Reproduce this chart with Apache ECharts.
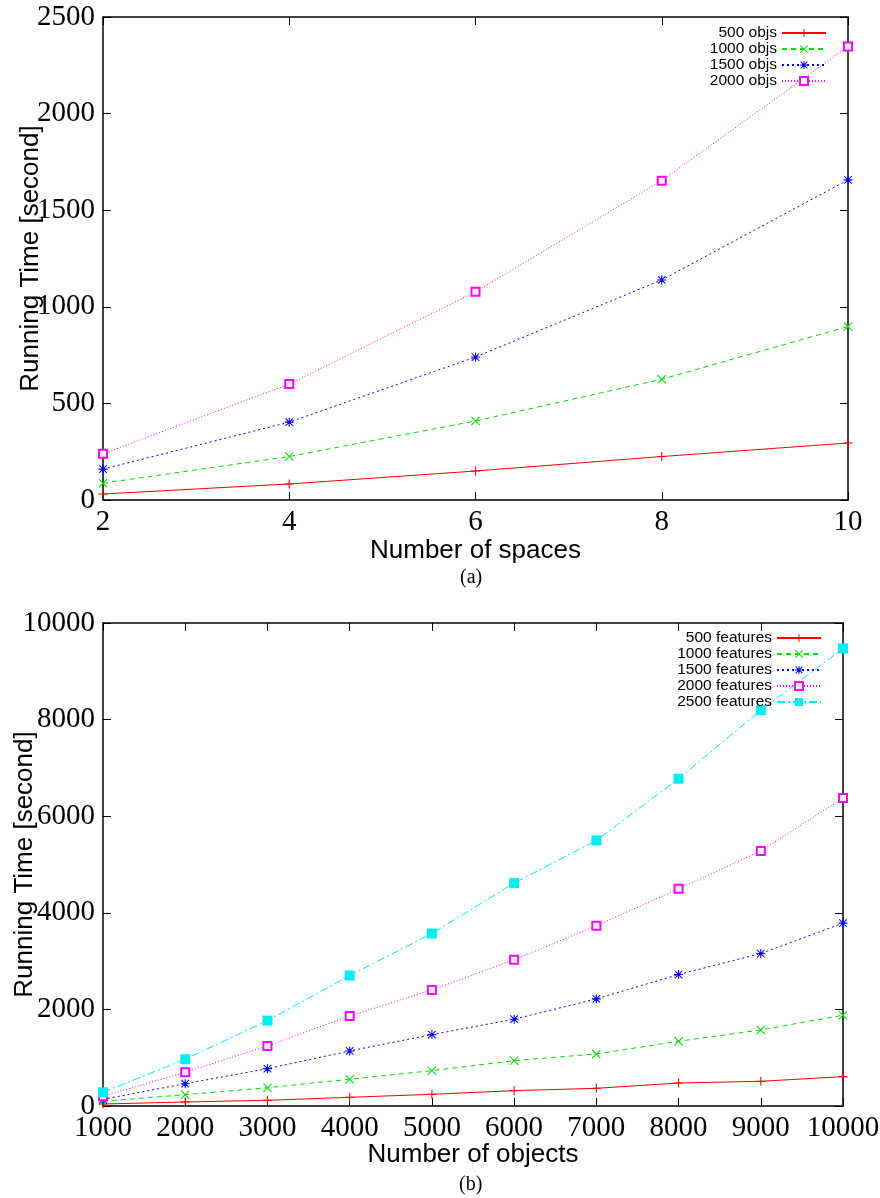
<!DOCTYPE html>
<html>
<head>
<meta charset="utf-8">
<script src="https://cdn.jsdelivr.net/npm/echarts@6/dist/echarts.min.js"></script>
<style>
  html, body { margin: 0; padding: 0; background: #fff; }
  #main { width: 880px; height: 1198px; }
</style>
</head>
<body>
<div id="main"></div>
<script>
// (a) running time vs number of spaces
var spaces = [2, 4, 6, 8, 10];
var objs500 = [31, 83, 150, 225, 295];
var objs1000 = [87, 225, 409, 625, 898];
var objs1500 = [160, 403, 740, 1139, 1657];
var objs2000 = [239, 600, 1078, 1653, 2347];

// (b) running time vs number of objects
var objects = [1000, 2000, 3000, 4000, 5000, 6000, 7000, 8000, 9000, 10000];
var feat500 = [41, 83, 118, 180, 242, 318, 366, 476, 511, 608];
var feat1000 = [97, 234, 379, 553, 732, 939, 1078, 1341, 1575, 1880];
var feat1500 = [139, 462, 773, 1140, 1478, 1797, 2218, 2722, 3157, 3786];
var feat2000 = [200, 698, 1243, 1865, 2404, 3026, 3731, 4497, 5279, 6377];
var feat2500 = [284, 968, 1768, 2701, 3571, 4615, 5499, 6777, 8193, 9472];

// gnuplot-like point shapes
var PLUS = 'path://M4.4,0H5.6V4.4H10V5.6H5.6V10H4.4V5.6H0V4.4H4.4Z';
var CROSS = 'path://M0.8,0L5,4.2L9.2,0L10,0.8L5.8,5L10,9.2L9.2,10L5,5.8L0.8,10L0,9.2L4.2,5L0,0.8Z';
var STAR = 'path://M4.4,0H5.6V4.4H10V5.6H5.6V10H4.4V5.6H0V4.4H4.4Z' +
           'M1.2,0.4L5,4.2L8.8,0.4L9.6,1.2L5.8,5L9.6,8.8L8.8,9.6L5,5.8L1.2,9.6L0.4,8.8L4.2,5L0.4,1.2Z';

var serif = 'Liberation Serif';
var sans = 'Liberation Sans';

function pairs(xs, ys) {
  var out = [];
  for (var i = 0; i < xs.length; i++) out.push([xs[i], ys[i]]);
  return out;
}

function mkSeries(name, xs, ys, color, dash, symbol, size, idx) {
  var empty = symbol === 'emptyRect';
  return {
    name: name,
    type: 'line',
    xAxisIndex: idx * 2,
    yAxisIndex: idx * 2,
    data: pairs(xs, ys),
    symbol: symbol,
    symbolSize: size,
    showAllSymbol: true,
    animation: false,
    clip: false,
    lineStyle: { color: color, width: 1, type: dash },
    itemStyle: empty ? { color: color, borderColor: color, borderWidth: 1 }
                     : { color: color, borderWidth: 0 },
    emphasis: { disabled: true }
  };
}

var frame = { show: true, onZero: false, lineStyle: { color: '#000', width: 1.5 } };
var inTick = { show: true, inside: true, length: 8, lineStyle: { color: '#000', width: 1 } };
var tickFont = { fontFamily: serif, fontSize: 29, color: '#000', formatter: function (v) { return String(v); } };

function axesFor(idx, xmin, xmax, xint, ymax, yint, xname, xgap, ygap) {
  var x = [
    { type: 'value', gridIndex: idx, position: 'bottom', min: xmin, max: xmax, interval: xint,
      name: xname, nameLocation: 'middle', nameGap: xgap, nameMoveOverlap: false,
      nameTextStyle: { fontFamily: sans, fontSize: 26, color: '#000' },
      axisLine: frame, axisTick: inTick, splitLine: { show: false },
      axisLabel: Object.assign({ margin: 8 }, tickFont) },
    { type: 'value', gridIndex: idx, position: 'top', min: xmin, max: xmax, interval: xint,
      axisLine: frame, axisTick: inTick, splitLine: { show: false }, axisLabel: { show: false } }
  ];
  var y = [
    { type: 'value', gridIndex: idx, position: 'left', min: 0, max: ymax, interval: yint,
      name: 'Running Time [second]', nameLocation: 'middle', nameGap: ygap, nameMoveOverlap: false,
      nameTextStyle: { fontFamily: sans, fontSize: 26, color: '#000' },
      axisLine: frame, axisTick: inTick, splitLine: { show: false },
      axisLabel: Object.assign({ margin: 8 }, tickFont) },
    { type: 'value', gridIndex: idx, position: 'right', min: 0, max: ymax, interval: yint,
      axisLine: frame, axisTick: inTick, splitLine: { show: false }, axisLabel: { show: false } }
  ];
  return { x: x, y: y };
}

var a = axesFor(0, 2, 10, 2, 2500, 500, 'Number of spaces', 38, 59);
var b = axesFor(1, 1000, 10000, 1000, 10000, 2000, 'Number of objects', 36, 65);

var legendText = { fontFamily: sans, fontSize: 15.5, lineHeight: 15.7, color: '#000', align: 'right' };

var option = {
  backgroundColor: '#fff',
  animation: false,
  title: [
    { text: '(a)', left: 455, top: 563, textStyle: { fontFamily: serif, fontSize: 20, fontWeight: 'normal', color: '#000' } },
    { text: '(b)', left: 454, top: 1170, textStyle: { fontFamily: serif, fontSize: 20, fontWeight: 'normal', color: '#000' } }
  ],
  grid: [
    { left: 103, right: 32, top: 17, height: 483, outerBoundsMode: 'none', containLabel: false },
    { left: 103, right: 37, top: 623, height: 483, outerBoundsMode: 'none', containLabel: false }
  ],
  xAxis: a.x.concat(b.x),
  yAxis: a.y.concat(b.y),
  legend: [
    { data: ['500 objs', '1000 objs', '1500 objs', '2000 objs'],
      orient: 'vertical', right: 48, top: 20, align: 'right',
      itemWidth: 44, itemHeight: 10, itemGap: 0, selectedMode: false,
      textStyle: Object.assign({ width: 72 }, legendText) },
    { data: ['500 features', '1000 features', '1500 features', '2000 features', '2500 features'],
      orient: 'vertical', right: 53, top: 625, align: 'right',
      itemWidth: 44, itemHeight: 10, itemGap: 0, selectedMode: false,
      textStyle: Object.assign({ width: 100 }, legendText) }
  ],
  series: [
    mkSeries('500 objs', spaces, objs500, '#ff0000', 'solid', PLUS, 9, 0),
    mkSeries('1000 objs', spaces, objs1000, '#00e000', [5, 4], CROSS, 9, 0),
    mkSeries('1500 objs', spaces, objs1500, '#0000ff', [2, 3], STAR, 9, 0),
    mkSeries('2000 objs', spaces, objs2000, '#ff00ff', [1, 2], 'emptyRect', 8, 0),
    mkSeries('500 features', objects, feat500, '#ff0000', 'solid', PLUS, 9, 1),
    mkSeries('1000 features', objects, feat1000, '#00e000', [5, 4], CROSS, 9, 1),
    mkSeries('1500 features', objects, feat1500, '#0000ff', [2, 3], STAR, 9, 1),
    mkSeries('2000 features', objects, feat2000, '#ff00ff', [1, 2], 'emptyRect', 8, 1),
    mkSeries('2500 features', objects, feat2500, '#00eeee', [8, 3, 2, 3], 'rect', 10, 1)
  ]
};

var chart = echarts.init(document.getElementById('main'), null, { renderer: 'canvas' });
chart.setOption(option);
</script>
</body>
</html>
